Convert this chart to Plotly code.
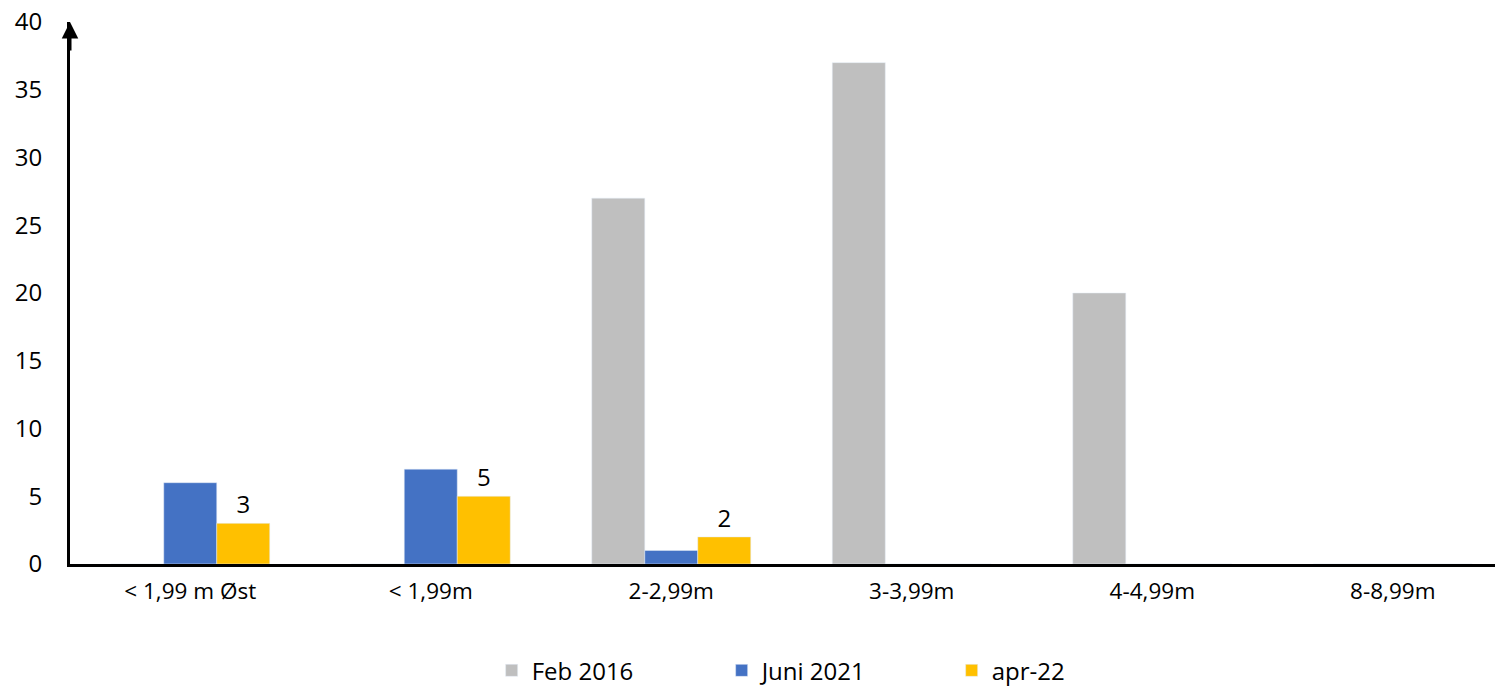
import plotly.graph_objects as go

categories = ["< 1,99 m Øst", "< 1,99m", "2-2,99m", "3-3,99m", "4-4,99m", "8-8,99m"]
feb_2016 = [0, 0, 27, 37, 20, 0]
juni_2021 = [6, 7, 1, 0, 0, 0]
apr_22 = [3, 5, 2, 0, 0, 0]

FONT = "'Open Sans', 'Liberation Sans', sans-serif"

fig = go.Figure()
fig.add_trace(go.Bar(x=categories, y=feb_2016, name="Feb 2016", marker_color="#BFBFBF"))
fig.add_trace(go.Bar(x=categories, y=juni_2021, name="Juni 2021", marker_color="#4472C4"))
fig.add_trace(go.Bar(
    x=categories, y=apr_22, name="apr-22", marker_color="#FFC000",
    text=[str(v) if v else "" for v in apr_22],
    textposition="outside", cliponaxis=False,
    textfont=dict(size=24, color="black", family=FONT),
))

fig.update_layout(
    width=1495, height=686,
    barmode="group", bargap=0.339, bargroupgap=0,
    plot_bgcolor="white", paper_bgcolor="white",
    margin=dict(l=70, r=0, t=22, b=122, autoexpand=False),
    font=dict(family=FONT, color="black"),
    showlegend=True,
    legend=dict(orientation="h", x=0.538, xanchor="center", y=-0.197, yanchor="middle",
                font=dict(size=24, family=FONT), entrywidth=185, traceorder="normal"),
    xaxis=dict(range=[-0.5, 5.425], showline=True, linecolor="black", linewidth=3,
               showgrid=False, ticks="", tickfont=dict(size=22.5, family=FONT),
               ticklabelstandoff=5, zeroline=False, automargin=False),
    yaxis=dict(range=[0, 40], dtick=5, showline=True, linecolor="black", linewidth=3,
               showgrid=False, ticks="", tickfont=dict(size=24, family=FONT),
               ticklabelstandoff=20, zeroline=False, automargin=False),
)

fig.add_annotation(x=0, xref="paper", y=40, yref="y", ax=0, ay=30,
                   showarrow=True, arrowhead=2, arrowsize=1.1, arrowwidth=3,
                   arrowcolor="black", text="")

fig.write_html("out.html", config={"displayModeBar": False},
               post_script="document.body.style.margin='0';document.body.style.overflow='hidden';")
